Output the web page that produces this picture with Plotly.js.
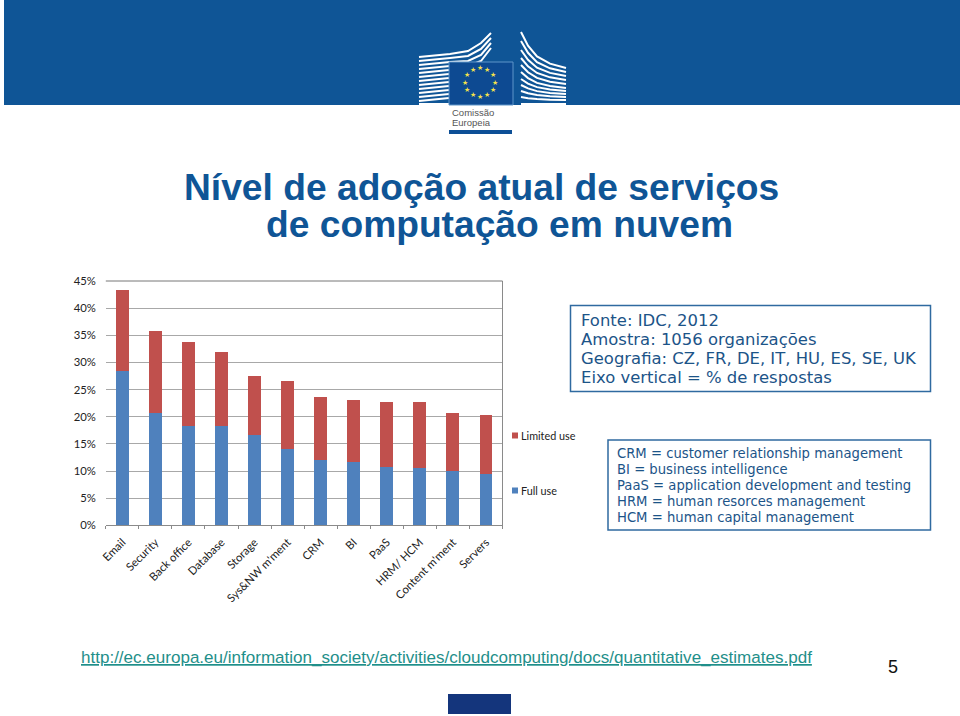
<!DOCTYPE html>
<html><head><meta charset="utf-8">
<script src="https://cdn.plot.ly/plotly-3.0.1.min.js"></script>
<style>html,body{margin:0;padding:0;background:#fff}#c{width:960px;height:716px}</style></head>
<body><div id="c"></div>
<script>
const categories=['Email','Security','Back office','Database','Storage',"Sys&NW m'ment",'CRM','BI','PaaS','HRM/ HCM',"Content m'ment",'Servers'];
const fullUse=[28.4,20.6,18.3,18.3,16.7,14.0,12.0,11.7,10.7,10.6,10.0,9.4];
const limitedUse=[15.0,15.2,15.5,13.7,10.8,12.6,11.7,11.3,12.0,12.1,10.7,11.0];
const yTicks=[0,5,10,15,20,25,30,35,40,45];
const yLabels=['0%','5%','10%','15%','20%','25%','30%','35%','40%','45%'];
const sourceLines=['Fonte: IDC, 2012','Amostra: 1056 organizações','Geografia: CZ, FR, DE, IT, HU, ES, SE, UK','Eixo vertical = % de respostas'];
const glossaryLines=['CRM = customer relationship management','BI = business intelligence','PaaS = application development and testing','HRM = human resorces management','HCM = human capital management'];

const W=960,H=716;
const px=x=>x/W, py=y=>1-y/H;
const shapes=[],annotations=[];
function rect(x0,y0,x1,y1,fill,line,lw){shapes.push({type:'rect',xref:'paper',yref:'paper',x0:px(x0),x1:px(x1),y0:py(y0),y1:py(y1),fillcolor:fill,line:{color:line||fill,width:lw||0},layer:'below'});}
function txt(x,y,t,size,color,fam){annotations.push({xref:'paper',yref:'paper',x:px(x-2),y:py(y),text:t,showarrow:false,xanchor:'left',yanchor:'middle',font:{size:size,color:color,family:fam}});}
function stroke(pts,w){ // decoration of the logo, in page pixels
  let d=pts.map((p,i)=>(i?'L':'M')+px(p[0]).toFixed(5)+','+py(p[1]).toFixed(5)).join(' ');
  shapes.push({type:'path',xref:'paper',yref:'paper',path:d,line:{color:'#fff',width:w||1.6},layer:'below'});
}
// banner
rect(4,0,960,105,'#0f5596');
// logo: left wing
[[57,0],[61,3],[65,6],[69,9]].forEach((s,i)=>stroke([[419,s[0]],[450,s[0]-3],[468,s[0]-6+i],[481,s[0]-14+i*2],[491,33+i*5]],2));
[73,77,81,85,89,93,97,101].forEach(y=>stroke([[419,y],[449,y-3]],2));
rect(419,103,449,105,'#fff');
// logo: right wing
[[32,68],[41,72],[50,76],[58,80],[65,84],[72,88],[79,91],[85,94],[91,97],[97,100]].forEach(s=>{
  const a=s[0],b=s[1];
  stroke([[521,a],[528,a+(b-a)*.38],[537,a+(b-a)*.68],[550,a+(b-a)*.88],[566,b]],2);
});
rect(521,103,566,105,'#fff');
// logo: flag
rect(449,62,513,105,'#0d4a92','#5f95c9',1);
[[480,68],[487,70],[493,75],[495,83],[493,90],[487,95],[480,97],[473,95],[467,90],[465,83],[467,75],[473,70]].forEach(p=>
  annotations.push({xref:'paper',yref:'paper',x:px(p[0]),y:py(p[1]),text:'★',showarrow:false,xanchor:'center',yanchor:'middle',font:{size:7,color:'#f2e14c',family:'DejaVu Sans'}}));
txt(452,112.5,'Comissão',9.5,'#555','Liberation Sans');
txt(452,123,'Europeia',9.5,'#555','Liberation Sans');
rect(449,130,512,134,'#0d4f96');
// title
annotations.push({xref:'paper',yref:'paper',x:px(481),y:py(187),text:'Nível de adoção atual de serviços',showarrow:false,xanchor:'center',yanchor:'middle',font:{size:37.2,color:'#0f5596',family:'Liberation Sans',weight:700}});
annotations.push({xref:'paper',yref:'paper',x:px(499),y:py(224),text:'de computação em nuvem',showarrow:false,xanchor:'center',yanchor:'middle',font:{size:37.2,color:'#0f5596',family:'Liberation Sans',weight:700}});
// boxes
rect(570.5,305.5,930.5,391.5,'#fff','#2f6aa0',1.5);
sourceLines.forEach((t,i)=>txt(580.5,320.5+i*19,t,16.45,'#1c5488','DejaVu Sans'));
rect(608,440,930.5,530,'#fff','#2f6aa0',1.5);
glossaryLines.forEach((t,i)=>txt(617,453.5+i*15.9,t,13.2,'#1c5488','DejaVu Sans'));
// footer
txt(81,657,'<u>http://ec.europa.eu/information_society/activities/cloudcomputing/docs/quantitative_estimates.pdf</u>',17.05,'#1f8f8a','Liberation Sans');
txt(888,667,'5',18,'#111','Liberation Sans');
rect(448,694,511,714,'#14357c');
// plot frame: right and top edges
shapes.push({type:'line',xref:'x domain',yref:'y domain',x0:1,x1:1,y0:0,y1:1,line:{color:'#8a8a8a',width:1}});
shapes.push({type:'line',xref:'x domain',yref:'y domain',x0:0,x1:1,y0:1,y1:1,line:{color:'#777',width:1}});

const traces=[
 {type:'bar',name:'Full use',x:categories,y:fullUse,marker:{color:'#4f81bd'},width:0.39,legendgroup:'a',legendrank:2},
 {type:'bar',name:'Limited use',x:categories,y:limitedUse,marker:{color:'#c0504d'},width:0.39,legendgroup:'b',legendrank:1}
];
const layout={width:W,height:H,margin:{l:0,r:0,t:0,b:0},paper_bgcolor:'#fff',plot_bgcolor:'#fff',barmode:'stack',
 xaxis:{domain:[px(105.8),px(502.5)],type:'category',tickangle:-45,tickfont:{family:'Lato',size:11.3,color:'#222'},showline:true,linecolor:'#8a8a8a',ticks:'outside',ticklen:3,tickcolor:'#8a8a8a',tickson:'boundaries',showgrid:false,automargin:false,ticklabelstandoff:5},
 yaxis:{domain:[py(525.3),py(281)],range:[0,45],tickvals:yTicks,ticktext:yLabels,tickfont:{family:'Lato',size:11.3,color:'#222'},gridcolor:'#a8a8a8',gridwidth:1,ticks:'',zeroline:false,automargin:false,ticklabelstandoff:9},
 showlegend:true,
 legend:{x:px(495),xanchor:'left',y:py(421),yanchor:'top',traceorder:'grouped',tracegroupgap:36,font:{family:'Lato',size:10.8,color:'#222'},bgcolor:'rgba(0,0,0,0)'},
 shapes,annotations};
Plotly.newPlot('c',traces,layout,{displayModeBar:false,staticPlot:true}).then(()=>{
 document.querySelectorAll('.legend .traces').forEach(g=>{
  const p=g.querySelector('.legendpoints path');
  if(p){p.setAttribute('d','M3,3H-3V-3H3Z');}
  const t=g.querySelector('.legendtext');
  if(t){t.setAttribute('x','26');}
 });
});
</script></body></html>
